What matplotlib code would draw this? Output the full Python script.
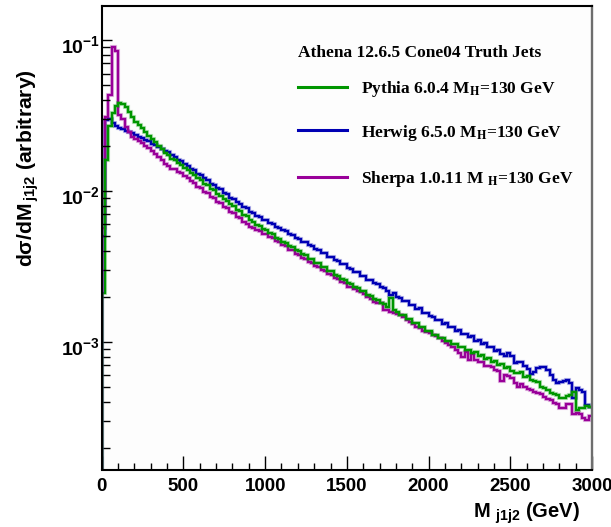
import numpy as np
import matplotlib
matplotlib.use('Agg')
import matplotlib.pyplot as plt
from matplotlib.lines import Line2D
from matplotlib.ticker import MultipleLocator, FixedLocator, LogLocator, FuncFormatter, NullFormatter
import matplotlib.transforms as mtransforms
import matplotlib.patheffects as pe

plt.rcParams['mathtext.fontset'] = 'custom'
plt.rcParams['mathtext.rm'] = 'Liberation Sans:bold'
plt.rcParams['mathtext.it'] = 'Liberation Sans:bold'
plt.rcParams['mathtext.bf'] = 'Liberation Sans:bold'
plt.rcParams['font.family'] = ['Liberation Sans', 'DejaVu Sans']
plt.rcParams['font.weight'] = 'bold'

# ---------------- data ----------------
x_min, x_max, n_bins = 0, 3000, 150
edges = np.linspace(x_min, x_max, n_bins + 1)

herwig = [
    0.0050, 0.0295, 0.0300, 0.0280, 0.0268, 0.0262, 0.0258, 0.0251, 0.0247, 0.0242,
    0.0235, 0.0228, 0.0224, 0.0217, 0.0214, 0.0206, 0.0202, 0.0195, 0.0191, 0.0184,
    0.0181, 0.0173, 0.0169, 0.0161, 0.0158, 0.0150, 0.0147, 0.0140, 0.0137, 0.0130,
    0.0127, 0.0121, 0.0118, 0.0112, 0.0110, 0.0104, 0.0103, 0.00975, 0.00955, 0.00905,
    0.00888, 0.00845, 0.00826, 0.00785, 0.00770, 0.00730, 0.00718, 0.00680, 0.00670, 0.00640,
    0.00638, 0.00612, 0.00605, 0.00578, 0.00572, 0.00548, 0.00540, 0.00516, 0.00512, 0.00487,
    0.00483, 0.00461, 0.00456, 0.00437, 0.00432, 0.00412, 0.00408, 0.00389, 0.00386, 0.00367,
    0.00364, 0.00348, 0.00344, 0.00327, 0.00326, 0.00309, 0.00306, 0.00291, 0.00289, 0.00275,
    0.00272, 0.00259, 0.00257, 0.00244, 0.00242, 0.00231, 0.00228, 0.00217, 0.00205, 0.00211,
    0.00199, 0.00196, 0.00187, 0.00186, 0.00176, 0.00175, 0.00166, 0.00168, 0.00156, 0.00155,
    0.00148, 0.00146, 0.00139, 0.00140, 0.00132, 0.00133, 0.00126, 0.00125, 0.00119, 0.00120,
    0.00113, 0.00113, 0.00108, 0.00109, 0.00102, 0.00103, 9.70e-4, 9.80e-4, 9.20e-4, 9.30e-4,
    8.75e-4, 8.85e-4, 8.30e-4, 8.05e-4, 8.40e-4, 8.13e-4, 7.24e-4, 7.41e-4, 7.41e-4, 6.92e-4,
    6.61e-4, 6.17e-4, 6.31e-4, 6.68e-4, 6.84e-4, 6.84e-4, 6.53e-4, 6.03e-4, 5.56e-4, 5.31e-4,
    5.43e-4, 5.50e-4, 5.62e-4, 5.37e-4, 4.27e-4, 4.95e-4, 4.79e-4, 4.68e-4, 3.80e-4, 3.72e-4,
]

pythia = [
    0.0021, 0.0160, 0.0270, 0.0330, 0.0365, 0.0380, 0.0375, 0.0360, 0.0335, 0.0310,
    0.0288, 0.0272, 0.0260, 0.0245, 0.0232, 0.0220, 0.0210, 0.0198, 0.0190, 0.0179,
    0.0172, 0.0164, 0.0160, 0.0153, 0.0149, 0.0142, 0.0138, 0.0131, 0.0128, 0.0121,
    0.0118, 0.0111, 0.0109, 0.0103, 0.0101, 0.00955, 0.00930, 0.00880, 0.00860, 0.00815,
    0.00792, 0.00752, 0.00733, 0.00695, 0.00678, 0.00642, 0.00626, 0.00595, 0.00583, 0.00558,
    0.00549, 0.00523, 0.00516, 0.00491, 0.00484, 0.00462, 0.00455, 0.00433, 0.00428, 0.00406,
    0.00401, 0.00381, 0.00377, 0.00357, 0.00355, 0.00336, 0.00333, 0.00315, 0.00313, 0.00296,
    0.00293, 0.00278, 0.00275, 0.00261, 0.00259, 0.00245, 0.00243, 0.00230, 0.00229, 0.00217,
    0.00216, 0.00204, 0.00203, 0.00192, 0.00191, 0.00181, 0.00179, 0.00170, 0.00195, 0.00163,
    0.00158, 0.00150, 0.00150, 0.00142, 0.00141, 0.00133, 0.00133, 0.00125, 0.00125, 0.00118,
    0.00118, 0.00111, 0.00111, 0.00106, 0.00106, 0.00101, 0.00102, 9.70e-4, 9.70e-4, 9.25e-4,
    9.30e-4, 8.85e-4, 8.90e-4, 8.45e-4, 8.55e-4, 8.05e-4, 8.15e-4, 7.70e-4, 7.80e-4, 7.40e-4,
    7.45e-4, 7.05e-4, 7.15e-4, 6.75e-4, 6.80e-4, 6.46e-4, 6.24e-4, 6.24e-4, 6.31e-4, 5.89e-4,
    5.96e-4, 5.62e-4, 5.50e-4, 5.43e-4, 5.07e-4, 4.95e-4, 4.84e-4, 4.57e-4, 4.52e-4, 4.47e-4,
    4.27e-4, 4.27e-4, 4.37e-4, 4.47e-4, 4.68e-4, 3.55e-4, 3.63e-4, 3.63e-4, 3.76e-4, 3.72e-4,
]

sherpa = [
    0.0057, 0.0310, 0.0430, 0.0900, 0.0850, 0.0320, 0.0300, 0.0267, 0.0245, 0.0229,
    0.0222, 0.0213, 0.0208, 0.0199, 0.0194, 0.0184, 0.0177, 0.0167, 0.0161, 0.0152,
    0.0147, 0.0140, 0.0139, 0.0134, 0.0132, 0.0125, 0.0122, 0.0116, 0.0113, 0.0107,
    0.0105, 0.00990, 0.00970, 0.00915, 0.00895, 0.00845, 0.00828, 0.00783, 0.00768, 0.00725,
    0.00710, 0.00670, 0.00658, 0.00620, 0.00609, 0.00574, 0.00565, 0.00555, 0.00546, 0.00522,
    0.00518, 0.00494, 0.00487, 0.00464, 0.00457, 0.00436, 0.00430, 0.00409, 0.00404, 0.00384,
    0.00379, 0.00361, 0.00356, 0.00339, 0.00334, 0.00318, 0.00314, 0.00298, 0.00295, 0.00281,
    0.00277, 0.00264, 0.00260, 0.00248, 0.00245, 0.00233, 0.00232, 0.00226, 0.00219, 0.00214,
    0.00207, 0.00200, 0.00193, 0.00184, 0.00182, 0.00180, 0.00164, 0.00162, 0.00158, 0.00155,
    0.00153, 0.00150, 0.00146, 0.00140, 0.00135, 0.00132, 0.00126, 0.00123, 0.00119, 0.00116,
    0.00114, 0.00111, 0.00110, 0.00106, 0.00102, 9.89e-4, 9.55e-4, 9.23e-4, 8.91e-4, 8.41e-4,
    8.00e-4, 8.61e-4, 7.60e-4, 8.32e-4, 7.59e-4, 7.41e-4, 7.33e-4, 6.92e-4, 6.92e-4, 6.84e-4,
    6.53e-4, 6.46e-4, 5.50e-4, 6.03e-4, 5.96e-4, 5.75e-4, 5.37e-4, 5.07e-4, 5.25e-4, 5.01e-4,
    4.90e-4, 4.79e-4, 4.68e-4, 4.57e-4, 4.52e-4, 4.32e-4, 4.22e-4, 4.12e-4, 3.94e-4, 3.89e-4,
    3.63e-4, 3.63e-4, 3.89e-4, 3.89e-4, 3.31e-4, 3.39e-4, 3.31e-4, 3.16e-4, 3.02e-4, 3.24e-4,
]

assert len(herwig) == n_bins and len(pythia) == n_bins and len(sherpa) == n_bins

header = 'Athena 12.6.5 Cone04 Truth Jets'
labels = ['Pythia 6.0.4 M$_{\\mathbf{H}}$=130 GeV',
          'Herwig 6.5.0 M$_{\\mathbf{H}}$=130 GeV',
          'Sherpa 1.0.11 M $_{\\mathbf{H}}$=130 GeV']
colors = {'pythia': '#009600', 'herwig': '#0000b4', 'sherpa': '#990099'}
y_lo, y_hi = 1.43e-4, 0.168
y_major = [1e-3, 1e-2, 1e-1]

# ---------------- figure ----------------
W, H = 611, 527
fig = plt.figure(figsize=(W / 100, H / 100), dpi=100)
fig.patch.set_facecolor('white')
ax = fig.add_axes([101.7 / W, 1 - 469.5 / H, 490.3 / W, 463.5 / H])
ax.set_facecolor('#fdfdfd')

lw = 1.7
for vals, col in [(herwig, colors['herwig']), (sherpa, colors['sherpa']), (pythia, colors['pythia'])]:
    halo = [pe.Stroke(linewidth=lw + 1.3, foreground=col, alpha=0.25), pe.Normal()]
    ax.stairs(vals, edges, color=col, lw=lw, baseline=None, path_effects=halo)
    ax.vlines(edges[0], y_lo, vals[0], color=col, lw=lw, path_effects=halo)

ax.set_yscale('log')
ax.set_xlim(x_min, x_max)
ax.set_ylim(y_lo, y_hi)

ax.xaxis.set_major_locator(MultipleLocator(500))
ax.xaxis.set_minor_locator(MultipleLocator(100))
ax.yaxis.set_major_locator(FixedLocator(y_major))
ax.yaxis.set_minor_locator(LogLocator(base=10, subs=np.arange(2, 10), numticks=30))
ax.yaxis.set_minor_formatter(NullFormatter())
ax.yaxis.set_major_formatter(FuncFormatter(lambda v, p: r'$10^{%d}$' % int(round(np.log10(v)))))
ax.xaxis.set_major_formatter(FuncFormatter(lambda v, p: '%d' % v))

ax.tick_params(axis='both', which='both', direction='in', top=False, right=False, color='black', width=1)
ax.tick_params(axis='x', which='major', length=10, pad=6, labelsize=13.5)
ax.tick_params(axis='x', which='minor', length=5)
ax.tick_params(axis='y', which='major', length=7.5, pad=1.5, labelsize=14)
ax.tick_params(axis='y', which='minor', length=5.5)
for lbl in ax.get_xticklabels() + ax.get_yticklabels():
    lbl.set_fontweight('bold')

for s in ['left', 'bottom', 'top']:
    ax.spines[s].set_linewidth(1.5)
    ax.spines[s].set_color('black')
ax.spines['right'].set_linewidth(1.7)
ax.spines['right'].set_color('#6e6e6e')

# axis titles
fig.text(580 / W, 1 - 518 / H, r'M $_{\mathrm{j1j2}}$ (GeV)', ha='right', va='baseline',
         fontsize=14.5, fontweight='bold')
fig.text(33 / W, 1 - 267 / H, r'd$\sigma$/dM$_{\mathrm{\,j1j2}}$ (arbitrary)', rotation=90,
         rotation_mode='anchor', ha='left', va='baseline', fontsize=15.2, fontweight='bold')

# legend (drawn manually, ROOT TLegend style without border)
serif = ['Liberation Serif', 'DejaVu Serif']
fig.text(298 / W, 1 - 56.7 / H, header, family=serif, weight='bold', size=12.5, va='baseline')
line_y = [86.7, 130.0, 176.7]
base_y = [93.0, 137.3, 183.3]
for lab, key, ly, by in zip(labels, ['pythia', 'herwig', 'sherpa'], line_y, base_y):
    fig.add_artist(Line2D([298 / W, 347 / W], [1 - ly / H, 1 - ly / H], color=colors[key], lw=2.2,
                          transform=fig.transFigure))
    fig.text(361 / W, 1 - by / H, lab, family=serif, weight='bold', size=12.5, va='baseline',
             math_fontfamily='stix')

fig.canvas.draw()
off = mtransforms.ScaledTranslation(0, -4 / 100, fig.dpi_scale_trans)
for lbl in ax.get_yticklabels():
    lbl.set_transform(lbl.get_transform() + off)

fig.savefig('out.png', dpi=100, facecolor='white')
